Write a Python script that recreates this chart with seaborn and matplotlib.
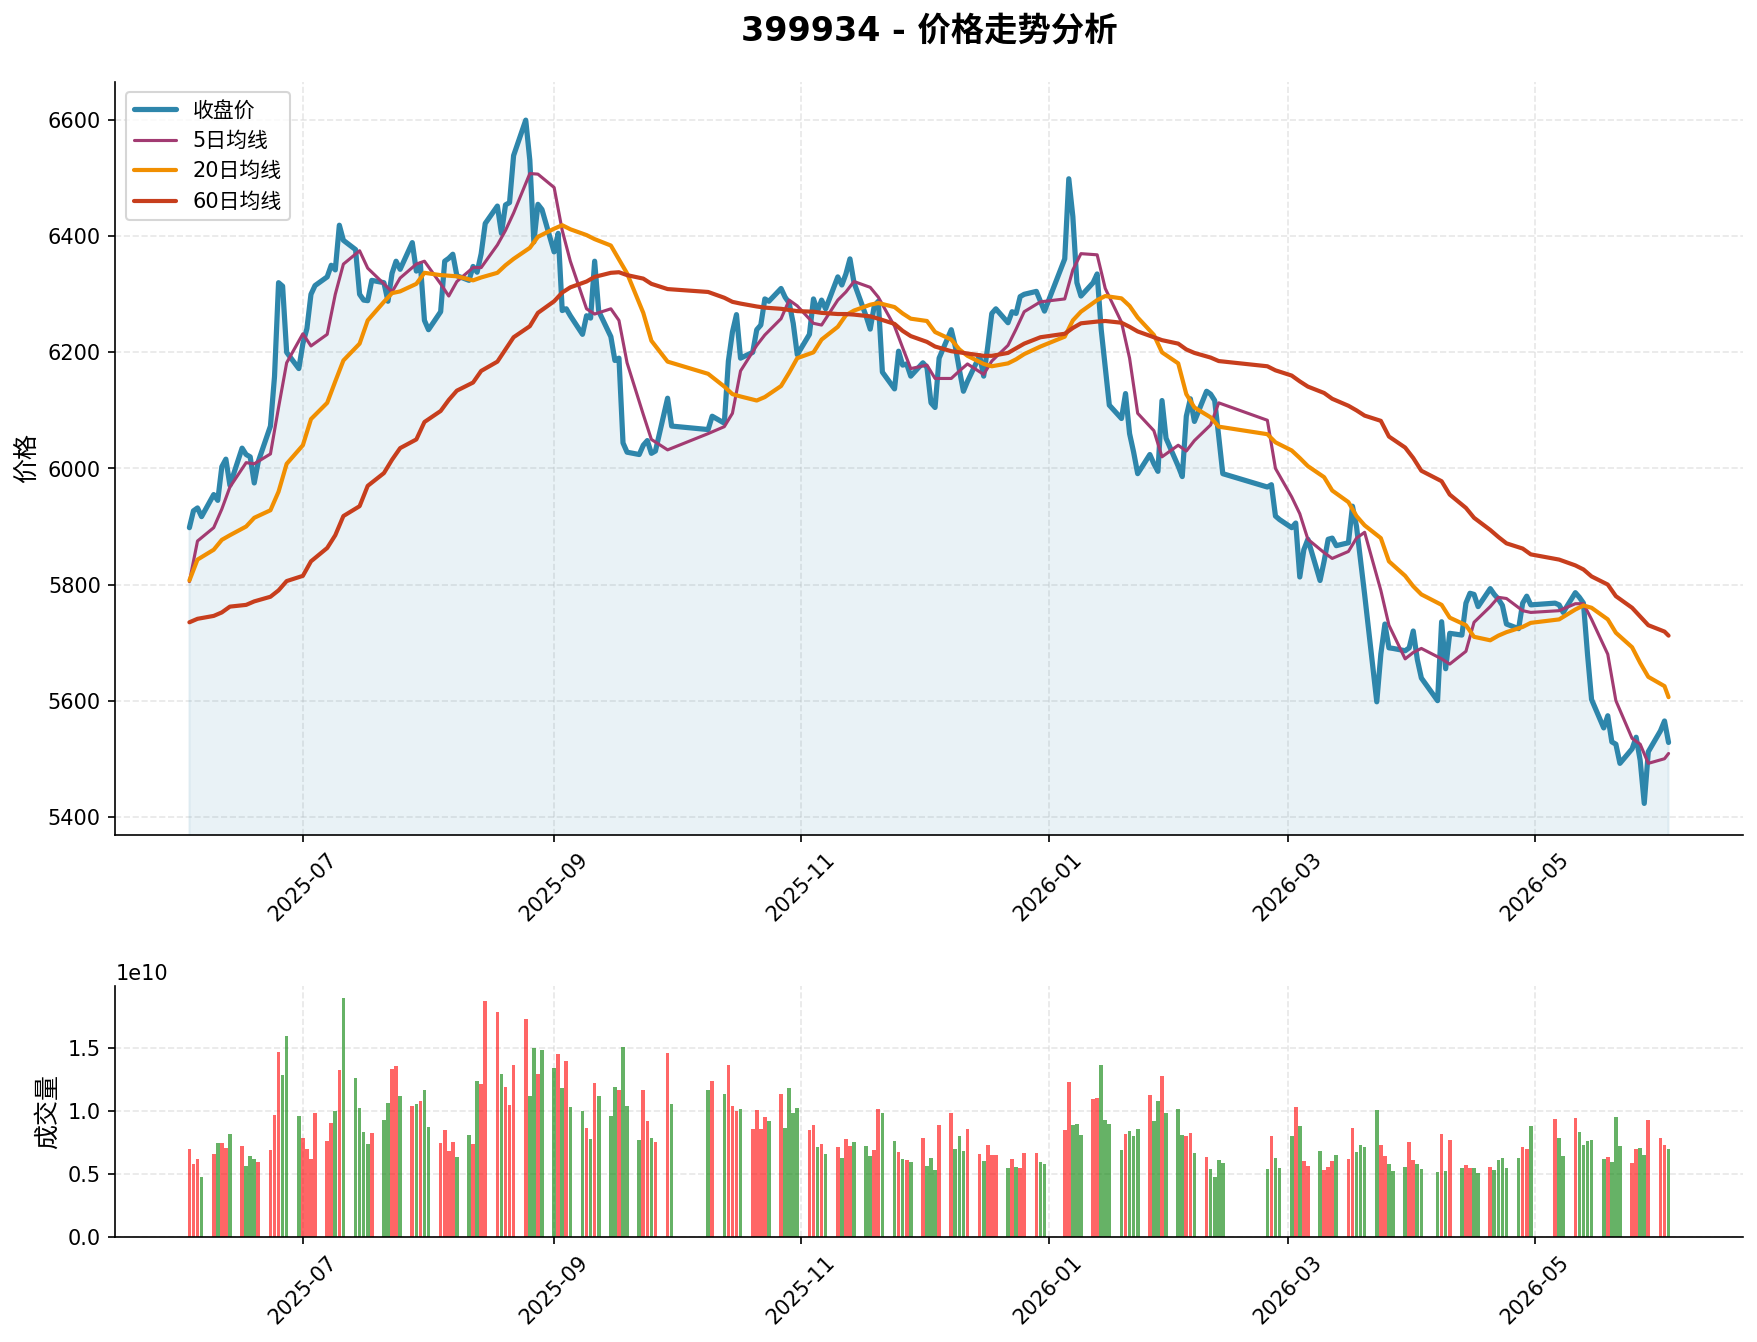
import numpy as np
import pandas as pd
import matplotlib.pyplot as plt
import matplotlib.dates as mdates
import seaborn as sns

# 交易日历：工作日去掉休市日
start_date = "2025-06-03"
end_date = "2026-06-03"
holidays = [
    "2025-10-01", "2025-10-02", "2025-10-03", "2025-10-06", "2025-10-07", "2025-10-08",
    "2026-01-01", "2026-01-02",
    "2026-02-16", "2026-02-17", "2026-02-18", "2026-02-19", "2026-02-20", "2026-02-23",
    "2026-04-06", "2026-05-01", "2026-05-04", "2026-05-05",
]

# 收盘价（每周一行）
close = [
    5898, 5927, 5932, 5917,
    5955, 5945, 6003, 6016, 5971,
    6035, 6024, 6020, 5975, 6012,
    6073, 6158, 6320, 6314, 6200,
    6172, 6215, 6241, 6300, 6315,
    6330, 6350, 6342, 6419, 6393,
    6377, 6300, 6290, 6289, 6324,
    6320, 6288, 6336, 6357, 6343,
    6389, 6340, 6352, 6255, 6239,
    6270, 6357, 6362, 6369, 6332,
    6324, 6348, 6338, 6370, 6422,
    6452, 6405, 6454, 6458, 6539,
    6600, 6531, 6390, 6455, 6446,
    6373, 6405, 6272, 6275, 6263,
    6231, 6263, 6259, 6357, 6271,
    6227, 6186, 6190, 6044, 6028,
    6024, 6040, 6048, 6026, 6030,
    6121, 6073,
    6067, 6090,
    6078, 6185, 6235, 6265, 6190,
    6200, 6239, 6247, 6292, 6288,
    6310, 6295, 6285, 6250, 6196,
    6231, 6292, 6271, 6290, 6275,
    6330, 6316, 6335, 6361, 6320,
    6262, 6240, 6280, 6288, 6166,
    6137, 6202, 6178, 6180, 6159,
    6182, 6174, 6113, 6105, 6190,
    6239, 6210, 6170, 6133, 6150,
    6194, 6159, 6210, 6267, 6275,
    6251, 6270, 6267, 6296, 6300,
    6305, 6288, 6271,
    6361, 6499, 6434, 6320, 6297,
    6320, 6335, 6239, 6174, 6109,
    6086, 6129, 6060, 6028, 5991,
    6024, 6008, 5995, 6117, 6052,
    6004, 5986, 6090, 6120, 6081,
    6133, 6128, 6117, 6055, 5991,
    5968, 5972, 5918, 5912,
    5898, 5906, 5813, 5860, 5878,
    5807, 5840, 5878, 5880, 5867,
    5872, 5935, 5900, 5841, 5783,
    5598, 5680, 5732, 5691, 5690,
    5686, 5691, 5720, 5671, 5639,
    5600, 5736, 5655, 5716,
    5713, 5768, 5785, 5783, 5762,
    5793, 5783, 5775, 5764, 5732,
    5724, 5768, 5780, 5765,
    5768, 5765, 5752,
    5786, 5778, 5768, 5680, 5602,
    5553, 5574, 5529, 5525, 5492,
    5517, 5537, 5497, 5423, 5512,
    5548, 5565, 5528,
]

# 成交量（单位 1e9）
volume_1e9 = [
    6.96, 5.77, 6.16, 4.74,
    6.56, 7.43, 7.43, 7.04, 8.15,
    7.20, 5.61, 6.40, 6.16, 5.93,
    6.88, 9.66, 14.66, 12.83, 15.93,
    9.58, 7.83, 6.96, 6.16, 9.81,
    7.59, 9.02, 9.97, 13.23, 18.94,
    12.59, 10.21, 8.31, 7.35, 8.23,
    9.26, 10.61, 13.31, 13.54, 11.16,
    10.37, 10.53, 10.77, 11.64, 8.70,
    7.43, 8.47, 6.80, 7.51, 6.32,
    8.07, 7.35, 12.35, 12.12, 18.70,
    17.83, 12.91, 11.88, 10.45, 13.62,
    17.28, 11.16, 14.97, 12.91, 14.81,
    13.39, 14.50, 11.80, 13.94, 10.29,
    9.97, 8.62, 7.75, 12.20, 11.16,
    9.58, 11.88, 11.64, 15.05, 10.37,
    7.67, 11.64, 9.18, 7.83, 7.51,
    14.58, 10.53,
    11.64, 12.35,
    11.32, 13.62, 10.37, 9.97, 10.13,
    8.54, 10.05, 8.54, 9.50, 9.18,
    11.32, 8.62, 11.80, 9.81, 10.21,
    8.47, 8.86, 7.12, 7.35, 6.56,
    7.12, 6.24, 7.75, 7.20, 7.51,
    7.20, 6.40, 6.88, 10.13, 9.81,
    7.59, 6.72, 6.16, 6.08, 5.93,
    7.83, 5.61, 6.24, 5.29, 8.86,
    9.81, 6.96, 7.99, 6.80, 8.54,
    6.56, 6.01, 7.28, 6.48, 6.48,
    5.45, 6.16, 5.53, 5.45, 6.64,
    6.64, 5.93, 5.77,
    8.47, 12.28, 8.86, 8.94, 8.07,
    10.93, 11.01, 13.62, 9.26, 8.94,
    6.88, 8.15, 8.39, 7.99, 8.54,
    11.24, 9.18, 10.77, 12.75, 9.81,
    10.13, 8.07, 7.99, 8.23, 6.64,
    6.32, 5.37, 4.74, 6.08, 5.85,
    5.37, 7.99, 6.24, 5.45,
    7.99, 10.29, 8.78, 6.01, 5.61,
    6.80, 5.29, 5.53, 6.01, 6.48,
    6.16, 8.62, 6.72, 7.28, 7.12,
    10.05, 7.28, 6.40, 5.77, 5.21,
    5.53, 7.51, 6.08, 5.77, 5.37,
    5.13, 8.15, 5.21, 7.67,
    5.45, 5.69, 5.45, 5.45, 5.05,
    5.53, 5.29, 6.08, 6.24, 5.45,
    6.24, 7.12, 6.96, 8.78,
    9.34, 7.83, 6.40,
    9.42, 8.31, 7.28, 7.59, 7.67,
    6.16, 6.32, 5.93, 9.50, 7.20,
    5.85, 6.96, 7.04, 6.48, 9.26,
    7.83, 7.28, 6.96,
]

# 均线：每隔一个交易日读一次（最后一天补上）
ma5 = [
    5805, 5875, 5898, 5930, 5968, 6010, 6008, 6025, 6105, 6182,
    6232, 6211, 6231, 6300, 6352, 6375, 6345, 6318, 6304, 6328,
    6352, 6357, 6318, 6297, 6322, 6346, 6346, 6385, 6410, 6440,
    6508, 6507, 6484, 6410, 6357, 6275, 6266, 6275, 6255, 6182,
    6093, 6050, 6032, 6060, 6072, 6095, 6168, 6212, 6230, 6258,
    6290, 6280, 6250, 6247, 6290, 6304, 6322, 6312, 6295, 6245,
    6208, 6172, 6178, 6155, 6155, 6168, 6180, 6162, 6185, 6212,
    6240, 6270, 6287, 6292, 6342, 6370, 6368, 6310, 6252, 6190,
    6095, 6065, 6020, 6040, 6030, 6048, 6075, 6113, 6083, 6000,
    5951, 5922, 5878, 5855, 5845, 5857, 5880, 5890, 5790, 5730,
    5672, 5683, 5690, 5672, 5663, 5685, 5735, 5762, 5778, 5776,
    5755, 5752, 5755, 5767, 5767, 5740, 5680, 5600, 5535, 5525,
    5492, 5500, 5509,
]
ma20 = [
    5807, 5843, 5860, 5877, 5885, 5900, 5915, 5928, 5960, 6008,
    6040, 6085, 6113, 6150, 6186, 6215, 6255, 6287, 6302, 6305,
    6318, 6337, 6333, 6332, 6331, 6324, 6329, 6337, 6350, 6361,
    6380, 6399, 6413, 6419, 6412, 6402, 6395, 6384, 6360, 6336,
    6268, 6220, 6184, 6163, 6141, 6128, 6124, 6117, 6123, 6142,
    6165, 6190, 6200, 6222, 6244, 6264, 6272, 6282, 6285, 6278,
    6267, 6258, 6254, 6235, 6222, 6205, 6194, 6180, 6176, 6181,
    6188, 6197, 6210, 6227, 6255, 6270, 6290, 6297, 6293, 6280,
    6260, 6230, 6200, 6181, 6128, 6105, 6088, 6072, 6059, 6045,
    6031, 6018, 6004, 5985, 5962, 5942, 5918, 5902, 5880, 5840,
    5815, 5797, 5783, 5765, 5743, 5730, 5710, 5704, 5712, 5718,
    5727, 5734, 5740, 5757, 5764, 5760, 5740, 5717, 5692, 5665,
    5641, 5625, 5606,
]
ma60 = [
    5735, 5741, 5746, 5752, 5762, 5765, 5771, 5779, 5790, 5806,
    5815, 5840, 5863, 5885, 5918, 5935, 5970, 5992, 6015, 6035,
    6050, 6080, 6099, 6118, 6134, 6148, 6168, 6184, 6205, 6226,
    6245, 6268, 6288, 6303, 6312, 6322, 6330, 6337, 6338, 6333,
    6327, 6318, 6309, 6304, 6294, 6287, 6284, 6279, 6277, 6275,
    6273, 6271, 6270, 6268, 6266, 6266, 6265, 6262, 6258, 6249,
    6237, 6228, 6218, 6210, 6202, 6200, 6198, 6194, 6194, 6199,
    6207, 6215, 6226, 6232, 6242, 6250, 6253, 6254, 6251, 6244,
    6236, 6226, 6221, 6215, 6205, 6199, 6191, 6185, 6176, 6169,
    6160, 6150, 6141, 6130, 6120, 6108, 6100, 6091, 6082, 6055,
    6036, 6018, 5996, 5978, 5955, 5932, 5915, 5894, 5882, 5871,
    5862, 5852, 5843, 5833, 5826, 5814, 5800, 5780, 5760, 5745,
    5730, 5719, 5712,
]

sns.set_style("ticks")
plt.rcParams["font.family"] = ["DejaVu Sans", "Noto Sans CJK SC"]
plt.rcParams["axes.unicode_minus"] = False
for key in ("text.color", "axes.labelcolor", "axes.edgecolor", "xtick.color", "ytick.color"):
    plt.rcParams[key] = "black"

dates = pd.bdate_range(start_date, end_date)
dates = dates[~dates.isin(pd.to_datetime(holidays))]
assert len(dates) == len(close) == len(volume_1e9)

df = pd.DataFrame({"date": dates, "close": close, "volume": np.array(volume_1e9) * 1e9})
df["up"] = df["close"].diff().fillna(0) >= 0

ma_pos = list(range(0, len(df), 2)) + [len(df) - 1]
ma_df = pd.DataFrame({
    "date": df["date"].iloc[ma_pos].values,
    "ma5": ma5, "ma20": ma20, "ma60": ma60,
})

fig = plt.figure(figsize=(11.714, 8.947), dpi=150)
gs = fig.add_gridspec(2, 1, height_ratios=[3, 1], left=0.0657, right=0.9917,
                      top=0.939, bottom=0.0782, hspace=0.301)
ax1 = fig.add_subplot(gs[0])
ax2 = fig.add_subplot(gs[1])

# 价格走势
sns.lineplot(data=df, x="date", y="close", ax=ax1, color="#2E86AB", linewidth=2.5, label="收盘价")
sns.lineplot(data=ma_df, x="date", y="ma5", ax=ax1, color="#A23B72", linewidth=1.5, label="5日均线")
sns.lineplot(data=ma_df, x="date", y="ma20", ax=ax1, color="#F18F01", linewidth=2, label="20日均线")
sns.lineplot(data=ma_df, x="date", y="ma60", ax=ax1, color="#C73E1D", linewidth=2, label="60日均线")
ax1.fill_between(df["date"], df["close"], 0, color="#2E86AB", alpha=0.1)
ax1.set_ylim(df["close"].min() * 0.99, df["close"].max() * 1.01)

ax1.set_title("399934 - 价格走势分析", fontsize=16, fontweight="bold", pad=20)
ax1.set_xlabel("")
ax1.set_ylabel("价格", fontsize=12)
ax1.legend(loc="upper left", fontsize=10)
ax1.grid(True, linestyle="--", alpha=0.3, color="#b0b0b0")

# 成交量
bar_colors = np.where(df["up"], "red", "green")
ax2.bar(df["date"], df["volume"], width=0.9, color=bar_colors, alpha=0.6, linewidth=0)
ax2.set_xlim(ax1.get_xlim())
ax2.set_ylabel("成交量", fontsize=12)
ax2.grid(True, linestyle="--", alpha=0.3, color="#b0b0b0")

for ax in (ax1, ax2):
    ax.xaxis.set_major_locator(mdates.MonthLocator(bymonth=[1, 3, 5, 7, 9, 11]))
    ax.xaxis.set_major_formatter(mdates.DateFormatter("%Y-%m"))
    ax.tick_params(axis="x", rotation=45)

sns.despine(fig=fig)

fig.savefig("out.png", dpi=150)
plt.close(fig)
